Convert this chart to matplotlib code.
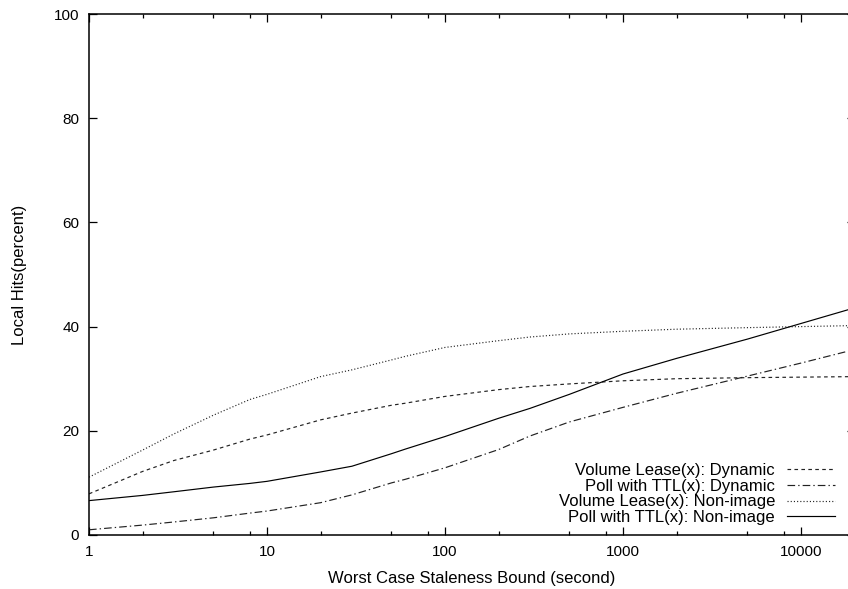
import matplotlib
matplotlib.use("Agg")
import matplotlib.pyplot as plt
from matplotlib.ticker import LogLocator, FixedLocator, NullFormatter

plt.rcParams['font.family'] = ['Liberation Sans', 'DejaVu Sans']
plt.rcParams['lines.scale_dashes'] = False

# Staleness bound (seconds)
staleness = [1, 2, 3, 5, 8, 10, 20, 30, 50, 60, 100, 200, 300, 500,
             1000, 2000, 5000, 10000, 20000]

# Local hit rates (percent)
vl_dynamic = [7.9, 12.2, 14.3, 16.3, 18.4, 19.2, 22.1, 23.4, 24.9, 25.3,
              26.6, 27.9, 28.5, 29.0, 29.6, 30.0, 30.2, 30.3, 30.4]
poll_dynamic = [1.0, 1.9, 2.5, 3.3, 4.2, 4.6, 6.2, 7.7, 10.0, 10.7,
                12.9, 16.4, 19.0, 21.7, 24.5, 27.2, 30.5, 33.0, 35.6]
vl_nonimage = [11.1, 16.3, 19.4, 23.0, 26.0, 27.0, 30.4, 31.7, 33.6, 34.3,
               36.0, 37.3, 38.0, 38.6, 39.1, 39.5, 39.8, 40.0, 40.2]
poll_nonimage = [6.6, 7.6, 8.3, 9.2, 9.9, 10.3, 12.1, 13.2, 15.6, 16.5,
                 18.9, 22.4, 24.3, 27.0, 30.9, 33.9, 37.6, 40.6, 43.6]

labels = ["Volume Lease(x): Dynamic", "Poll with TTL(x): Dynamic",
          "Volume Lease(x): Non-image", "Poll with TTL(x): Non-image"]
y_ticks = [0, 20, 40, 60, 80, 100]
x_ticks = [1, 10, 100, 1000, 10000]
x_tick_labels = ["1", "10", "100", "1000", "10000"]

W, H = 848, 589
fig = plt.figure(figsize=(W / 100, H / 100), dpi=100)
left, right, top, bottom = 89, 854.6, 14, 535
ax = fig.add_axes([left / W, 1 - bottom / H, (right - left) / W, (bottom - top) / H])

lw = 0.85
ax.plot(staleness, vl_dynamic, color='#222222', lw=lw, linestyle=(0, (2.6, 2.4)), label=labels[0])
ax.plot(staleness, poll_dynamic, color='#222222', lw=lw, linestyle=(0, (5.5, 2.2, 1.0, 2.2)), label=labels[1])
ax.plot(staleness, vl_nonimage, color='#222222', lw=lw, linestyle=(0, (0.8, 1.5)), label=labels[2])
ax.plot(staleness, poll_nonimage, color='black', lw=lw, linestyle='-', label=labels[3])

ax.set_xscale('log')
ax.set_xlim(1, 20000)
ax.set_ylim(0, 100)
ax.xaxis.set_major_locator(FixedLocator(x_ticks))
ax.set_xticklabels(x_tick_labels)
ax.xaxis.set_minor_locator(LogLocator(base=10, subs=(2, 5, 8)))
ax.xaxis.set_minor_formatter(NullFormatter())
ax.set_yticks(y_ticks)

ax.tick_params(which='both', direction='in', top=True, right=True, labelsize=11, colors='black')
ax.tick_params(which='major', length=5.5, width=0.9, pad=7)
ax.tick_params(which='minor', length=3, width=0.9)
for s in ax.spines.values():
    s.set_linewidth(1.1)

ax.set_xlabel("Worst Case Staleness Bound (second)", fontsize=12, labelpad=9)
ax.set_ylabel("Local Hits(percent)", fontsize=12, labelpad=19)

ax.legend(loc='lower right', bbox_to_anchor=(0.9744, 0.019), frameon=False,
          markerfirst=False, fontsize=12, handlelength=2.88, handletextpad=0.72,
          labelspacing=0.04, borderpad=0, borderaxespad=0)

fig.savefig("out.png", dpi=100)
